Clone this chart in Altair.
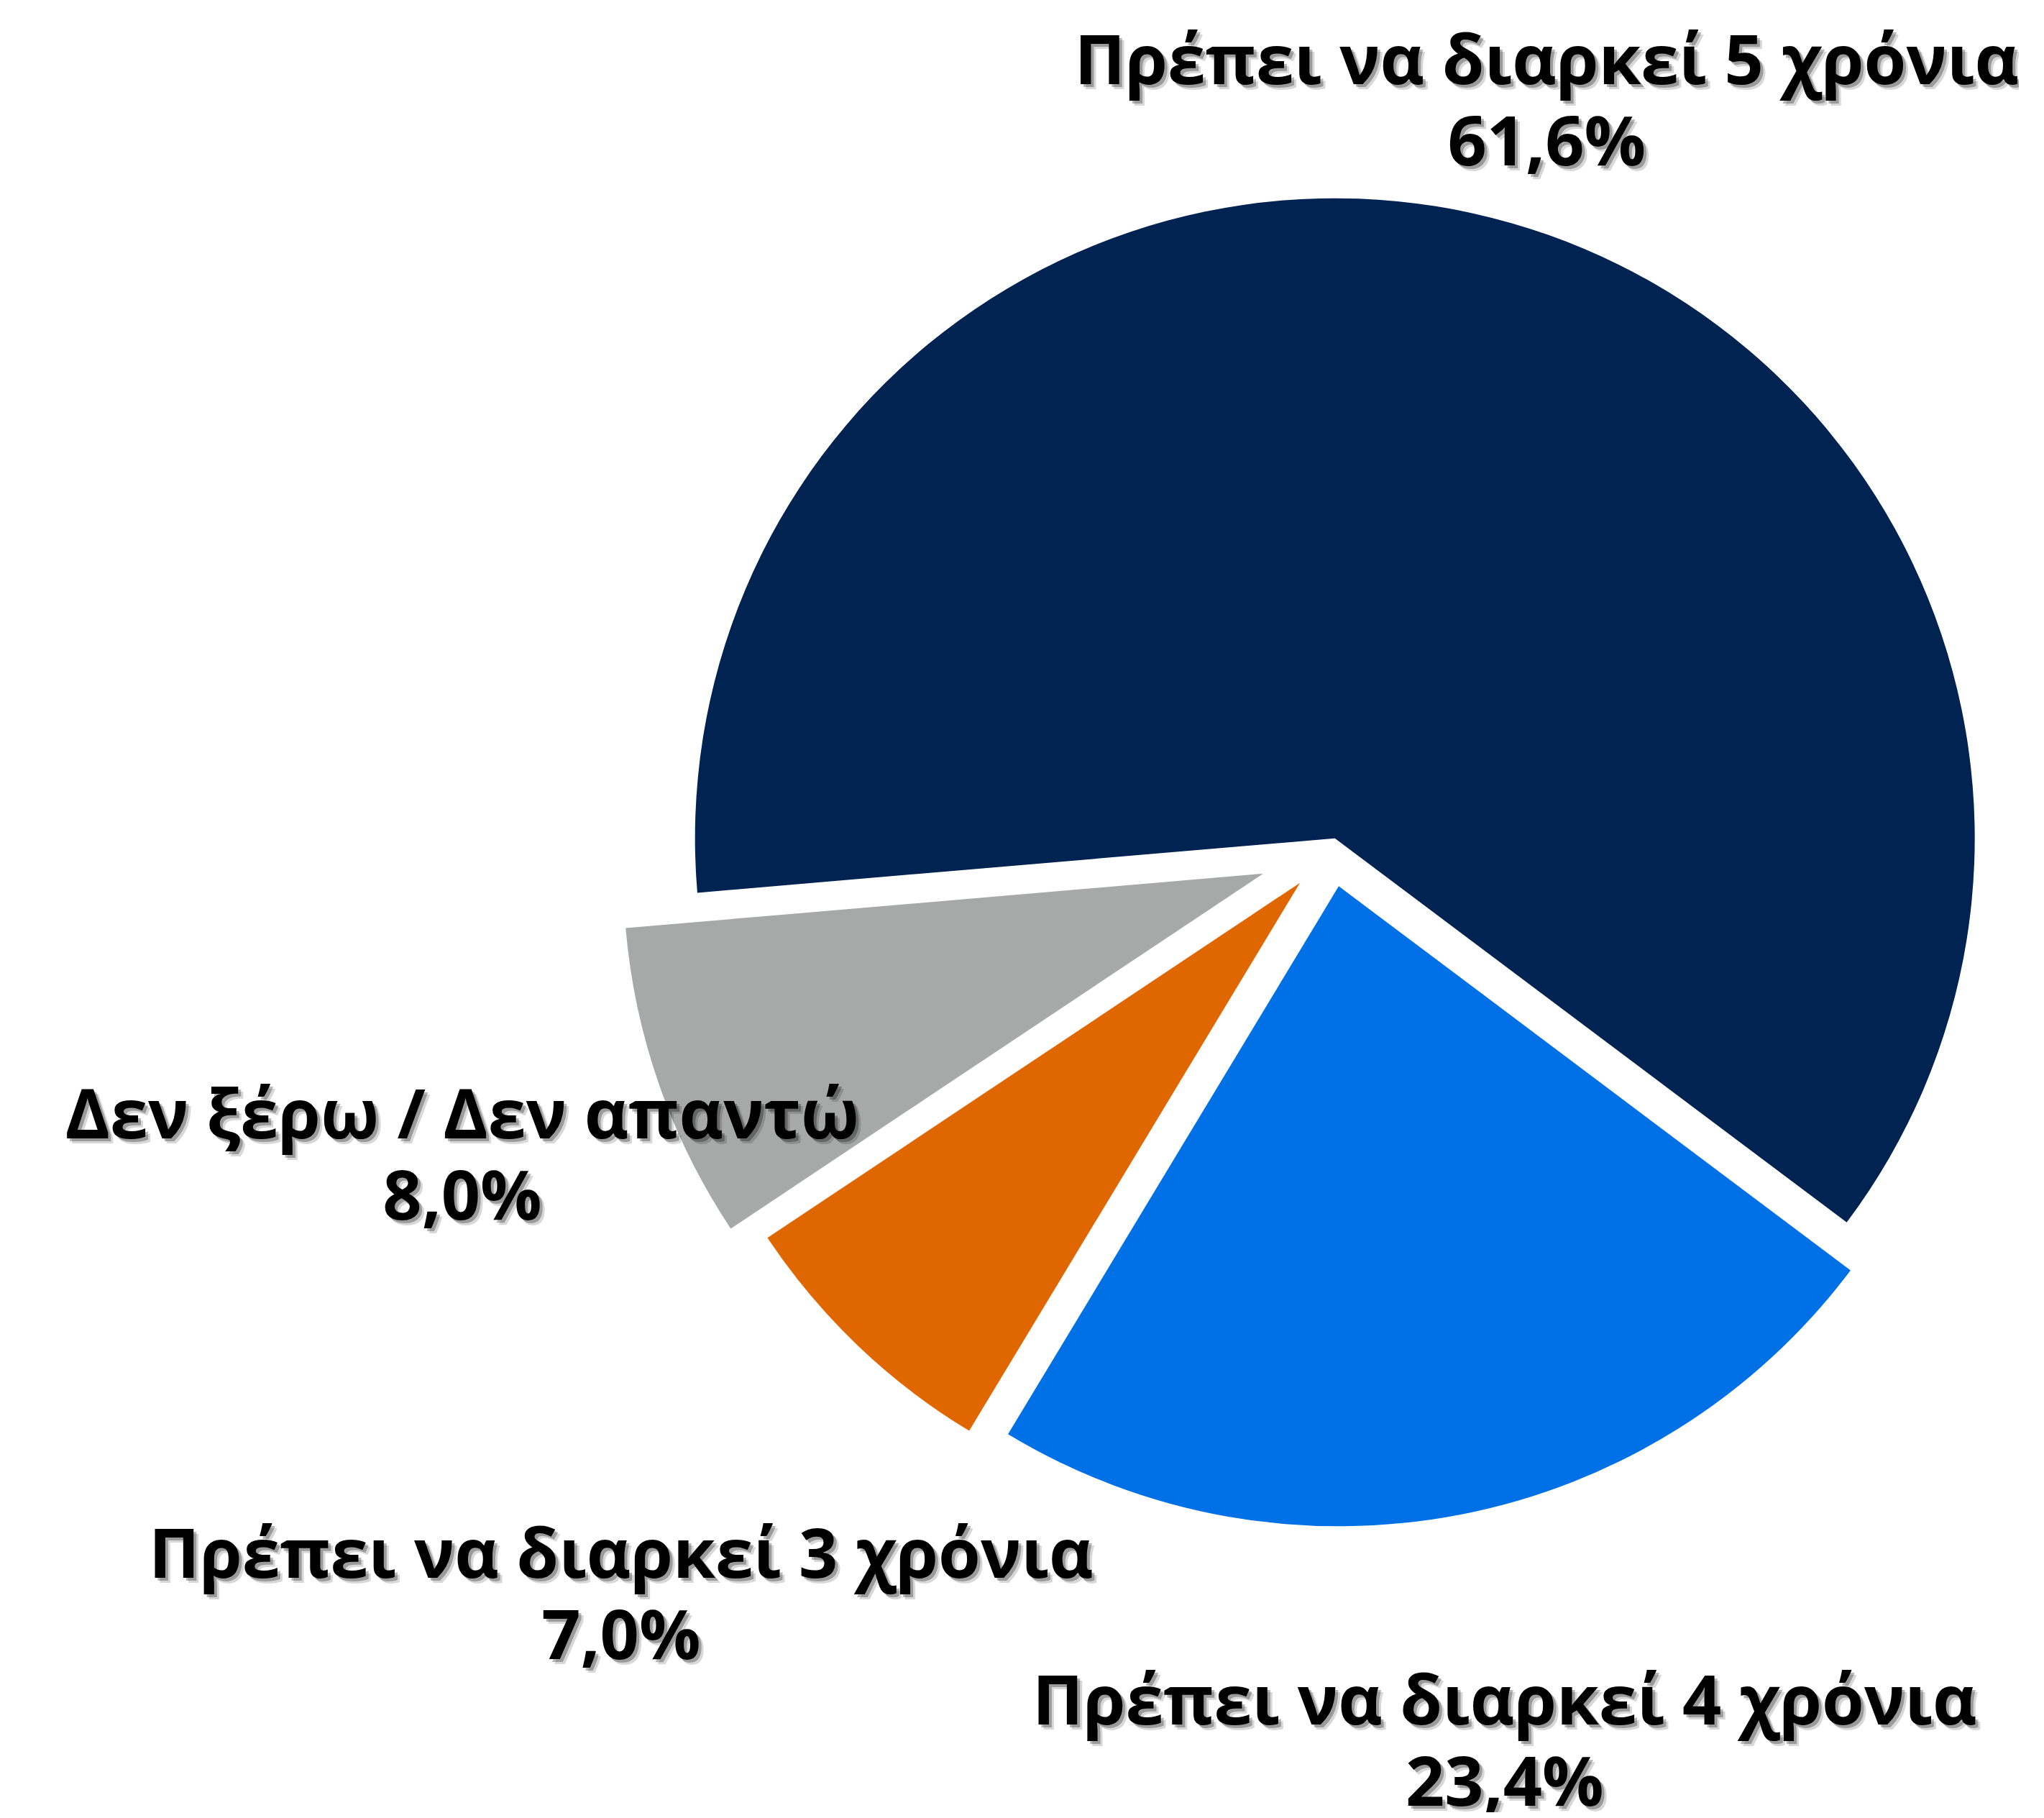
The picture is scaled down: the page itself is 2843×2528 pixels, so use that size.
import math
import altair as alt
import pandas as pd

# ---- data ----
categories = [
    "Πρέπει να διαρκεί 5 χρόνια",
    "Πρέπει να διαρκεί 4 χρόνια",
    "Πρέπει να διαρκεί 3 χρόνια",
    "Δεν ξέρω / Δεν απαντώ",
]
values = [61.6, 23.4, 7.0, 8.0]
colors = ["#002351", "#0070E6", "#E06600", "#A6A9A7"]

# ---- style (explosion distance and label distance from centre, px) ----
explode = [16.5, 51.7, 63.8, 100.8]
label_radius = [1085, 1261, 1430, 1281]

W, H = 2800, 2512
CX, CY = 1844.15, 1173.56
R = 890
START = math.radians(-94.88)
FONT = "Open Sans"
FS = 95
LH = 113
LABEL_SHIFT = 6

pct = [f"{v:.1f}".replace(".", ",") + "%" for v in values]
df = pd.DataFrame({
    "cat": categories,
    "value": values,
    "idx": list(range(len(values))),
    "label": [c + "\n" + p for c, p in zip(categories, pct)],
    "explode": explode,
    "lr": label_radius,
})

base = (
    alt.Chart(df)
    .transform_joinaggregate(total="sum(value)")
    .transform_window(cum="sum(value)", sort=[alt.SortField("idx")], frame=[None, 0])
    .transform_calculate(mid=f"{START} + 2*PI*(datum.cum - datum.value/2)/datum.total")
    .transform_calculate(
        cx=f"{CX} + datum.explode*sin(datum.mid)",
        cy=f"{CY} - datum.explode*cos(datum.mid)",
        lx=f"{CX} + datum.lr*sin(datum.mid)",
        ly=f"{CY} - datum.lr*cos(datum.mid) - {LH / 2} + {LABEL_SHIFT}",
    )
)

arcs = base.mark_arc(radius=R).encode(
    theta=alt.Theta("value:Q", stack=True,
                    scale=alt.Scale(range=[START, START + 2 * math.pi])),
    order=alt.Order("idx:Q"),
    color=alt.Color("cat:N", scale=alt.Scale(domain=categories, range=colors), legend=None),
    x=alt.X("cx:Q", scale=None),
    y=alt.Y("cy:Q", scale=None),
)

def text_layer(color, opacity, dx, dy):
    return base.mark_text(
        font=FONT, fontSize=FS, fontWeight="bold", lineBreak="\n", lineHeight=LH,
        align="center", baseline="middle", color=color, opacity=opacity, dx=dx, dy=dy,
    ).encode(
        x=alt.X("lx:Q", scale=None),
        y=alt.Y("ly:Q", scale=None),
        text="label:N",
    )

chart = alt.layer(
    arcs,
    text_layer("#000000", 0.15, 7, 7),
    text_layer("#000000", 0.28, 4, 4),
    text_layer("#000000", 1, 0, 0),
).properties(
    width=W, height=H, padding=0, autosize=alt.AutoSizeParams(type="none")
).configure_view(stroke=None)

chart.save("out.html", embed_options={"renderer": "svg", "actions": False})
